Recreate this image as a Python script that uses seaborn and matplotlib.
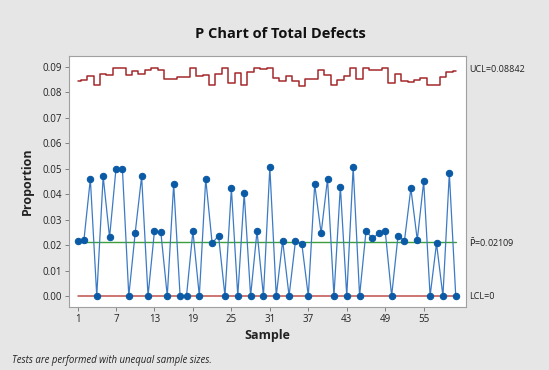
import matplotlib
matplotlib.use("Agg")
import matplotlib.pyplot as plt
import seaborn as sns
import numpy as np
import pandas as pd

samples = list(range(1, 61))
proportion = [0.0216, 0.0220, 0.0460, 0.0, 0.0470, 0.0230, 0.0500, 0.0500, 0.0, 0.0249,
              0.0470, 0.0, 0.0255, 0.0250, 0.0, 0.0440, 0.0, 0.0, 0.0255, 0.0,
              0.0460, 0.0207, 0.0237, 0.0, 0.0423, 0.0, 0.0404, 0.0, 0.0255, 0.0,
              0.0506, 0.0, 0.0217, 0.0, 0.0217, 0.0203, 0.0, 0.0439, 0.0246, 0.0460,
              0.0, 0.0430, 0.0, 0.0506, 0.0, 0.0255, 0.0227, 0.0246, 0.0255, 0.0,
              0.0237, 0.0217, 0.0423, 0.0220, 0.0450, 0.0, 0.0207, 0.0, 0.0482, 0.0]
ucl = [0.0844, 0.0850, 0.0866, 0.0829, 0.0873, 0.0867, 0.0895, 0.0895, 0.0867, 0.0886,
       0.0873, 0.0887, 0.0895, 0.0887, 0.0851, 0.0851, 0.0859, 0.0859, 0.0895, 0.0864,
       0.0869, 0.0829, 0.0873, 0.0896, 0.0836, 0.0876, 0.0829, 0.0881, 0.0895, 0.0890,
       0.0897, 0.0858, 0.0845, 0.0866, 0.0845, 0.0825, 0.0852, 0.0852, 0.0888, 0.0869,
       0.0829, 0.0849, 0.0866, 0.0895, 0.0853, 0.0895, 0.0888, 0.0888, 0.0895, 0.0836,
       0.0871, 0.0845, 0.0839, 0.0849, 0.0858, 0.0829, 0.0829, 0.0860, 0.0882, 0.0884]
p_bar = 0.02109
lcl = 0.0
xticks = [1, 7, 13, 19, 25, 31, 37, 43, 49, 55]
yticks = [0.00, 0.01, 0.02, 0.03, 0.04, 0.05, 0.06, 0.07, 0.08, 0.09]

df = pd.DataFrame({"Sample": samples, "Proportion": proportion, "UCL": ucl})

sns.set_style("white")
plt.rcParams['font.family'] = ['Open Sans', 'DejaVu Sans']

fig = plt.figure(figsize=(5.49, 3.70), dpi=100, facecolor="#E6E6E6")
ax = fig.add_axes([69/549, 1-307/370, (466-69)/549, (307-56)/370])
ax.set_facecolor("white")

x_lo, x_hi = -0.33, 61.6
sns.lineplot(data=df, x="Sample", y="UCL", ax=ax, color="#A4282C", lw=1.1,
             drawstyle="steps-mid", estimator=None)
ax.axhline(p_bar, xmin=(1-x_lo)/(x_hi-x_lo), xmax=(60-x_lo)/(x_hi-x_lo), color="#3D9E3D", lw=1)
ax.axhline(lcl, xmin=(1-x_lo)/(x_hi-x_lo), xmax=(60-x_lo)/(x_hi-x_lo), color="#C0504D", lw=1.1)
sns.lineplot(data=df, x="Sample", y="Proportion", ax=ax, color="#3C7BC4", lw=0.9,
             marker="o", markersize=4.6, markerfacecolor="#0B5AA6",
             markeredgecolor="#0B5AA6", estimator=None)

ax.set_xlim(x_lo, x_hi)
ax.set_ylim(-0.00432, 0.0943)
ax.set_xticks(xticks)
ax.set_yticks(yticks)
ax.set_yticklabels([f"{v:.2f}" for v in yticks])
ax.tick_params(axis="both", labelsize=7, length=3, width=0.7, color="#808080",
               direction="out", pad=2, labelcolor="#222222")
ax.tick_params(axis="x", bottom=True)
ax.tick_params(axis="y", left=True)
for s in ax.spines.values():
    s.set_color("#A0A0A0")
    s.set_linewidth(0.8)

ax.set_xlabel("Sample", fontsize=9, fontweight="bold", labelpad=3, color="#222222")
ax.set_ylabel("Proportion", fontsize=9, fontweight="bold", labelpad=6, color="#222222")

fig.text(0.51, 1-34/370, "P Chart of Total Defects", ha="center", va="center",
         fontsize=10.5, fontweight="bold", color="#111111")

ax.text(1.008, (0.0884+0.00432)/(0.0943+0.00432) + 0.005, "UCL=0.08842", transform=ax.transAxes,
        ha="left", va="center", fontsize=6.5, color="#222222")
ax.text(1.008, (p_bar+0.00432)/(0.0943+0.00432), r"$\bar{\mathrm{P}}$=0.02109", transform=ax.transAxes,
        ha="left", va="center", fontsize=6.5, color="#222222")
ax.text(1.008, (0+0.00432)/(0.0943+0.00432), "LCL=0", transform=ax.transAxes,
        ha="left", va="center", fontsize=6.5, color="#222222")

fig.text(12/549, 1-361/370, "Tests are performed with unequal sample sizes.",
         ha="left", va="center", fontsize=6.9, style="italic", color="#222222")

fig.savefig("out.png", dpi=100, facecolor=fig.get_facecolor())
